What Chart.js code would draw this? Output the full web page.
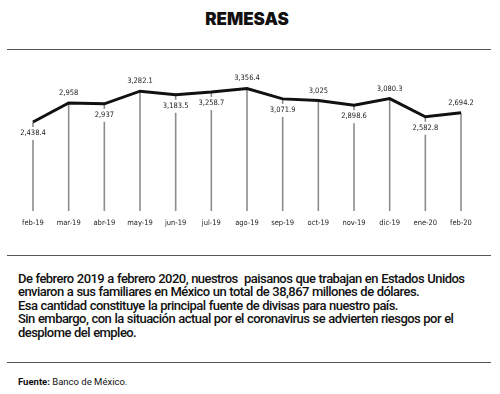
<!DOCTYPE html>
<html>
<head>
<meta charset="utf-8">
<script src="https://cdn.jsdelivr.net/npm/chart.js@4"></script>
<style>
  body { margin: 0; background: #fff; width: 500px; height: 394px; position: relative; overflow: hidden; font-family: Roboto, "Open Sans", sans-serif; color: #111; }
  #title { position: absolute; top: 9px; left: 0; width: 494px; text-align: center; font-family: Inter, Roboto, sans-serif; font-weight: 900; font-size: 17px; letter-spacing: 0px; }
  .rule { position: absolute; left: 7px; width: 484px; height: 1px; background: #555; }
  #chartBox { position: absolute; top: 55px; left: 0; width: 500px; height: 185px; }
  #note { position: absolute; top: 272px; left: 18px; width: 480px; font-size: 13px; font-weight: 500; line-height: 13.4px; letter-spacing: -0.55px; word-spacing: 0.5px; white-space: nowrap; }
  #source { position: absolute; top: 376px; left: 18px; font-size: 9.5px; }
</style>
</head>
<body>
<div id="title">REMESAS</div>
<div class="rule" style="top:49px"></div>
<div id="chartBox"><canvas id="remesasChart"></canvas></div>
<div class="rule" style="top:255px"></div>
<div id="note">De febrero 2019 a febrero 2020, nuestros&nbsp; paisanos que trabajan en Estados Unidos<br>enviaron a sus familiares en México un total de 38,867 millones de dólares.<br>Esa cantidad constituye la principal fuente de divisas para nuestro país.<br>Sin embargo, con la situación actual por el coronavirus se advierten riesgos por el<br>desplome del empleo.</div>
<div class="rule" style="top:362px"></div>
<div id="source"><b>Fuente:</b> Banco de México.</div>

<script>
// months and monthly remittances (millones de dólares)
const months = ["feb-19", "mar-19", "abr-19", "may-19", "jun-19", "jul-19", "ago-19",
  "sep-19", "oct-19", "nov-19", "dic-19", "ene-20", "feb-20"];
const remesas = [2438.4, 2958, 2937, 3282.1, 3183.5, 3258.7, 3356.4,
  3071.9, 3025, 2898.6, 3080.3, 2582.8, 2694.2];
const valueLabels = ["2,438.4", "2,958", "2,937", "3,282.1", "3,183.5", "3,258.7", "3,356.4",
  "3,071.9", "3,025", "2,898.6", "3,080.3", "2,582.8", "2,694.2"];
// which labels sit above the line (true) or below it (false)
const labelAbove = [false, true, false, true, false, false, true,
  false, true, false, true, false, true];

const labelFont = '7.5px "Liberation Sans Narrow", "DejaVu Sans Condensed", sans-serif';

// drop lines from each point to the bottom, plus value labels
const dropLinesPlugin = {
  id: "dropLines",
  beforeDatasetsDraw(chart) {
    const { ctx, chartArea, scales } = chart;
    ctx.save();
    ctx.strokeStyle = "#8c8c8c";
    ctx.lineWidth = 1.6;
    remesas.forEach((v, i) => {
      const x = scales.x.getPixelForValue(i);
      const y = scales.y.getPixelForValue(v);
      ctx.beginPath();
      ctx.moveTo(x, y);
      ctx.lineTo(x, chartArea.bottom);
      ctx.stroke();
    });
    ctx.restore();
  },
  afterDatasetsDraw(chart) {
    const { ctx, scales } = chart;
    ctx.save();
    ctx.font = labelFont;
    ctx.textAlign = "center";
    ctx.textBaseline = "middle";
    remesas.forEach((v, i) => {
      const x = scales.x.getPixelForValue(i);
      const y = scales.y.getPixelForValue(v);
      const ly = labelAbove[i] ? y - 10 : y + 11;
      if (!labelAbove[i]) {
        const w = ctx.measureText(valueLabels[i]).width;
        ctx.fillStyle = "#fff";
        ctx.fillRect(x - w / 2 - 2, ly - 6, w + 4, 13);
      }
      ctx.fillStyle = "#222";
      ctx.fillText(valueLabels[i], x, ly);
    });
    ctx.restore();
  }
};

const ctx = document.getElementById("remesasChart").getContext("2d");
new Chart(ctx, {
  type: "line",
  data: {
    labels: months,
    datasets: [
      {
        data: remesas,
        borderColor: "#111",
        borderWidth: 3,
        pointRadius: 0,
        tension: 0,
        fill: false,
      },
    ],
  },
  options: {
    responsive: true,
    maintainAspectRatio: false,
    animation: false,
    layout: {
      padding: { left: 33, right: 39, top: 10, bottom: 4 },
    },
    plugins: {
      legend: { display: false },
      tooltip: { enabled: false },
    },
    scales: {
      x: {
        offset: false,
        grid: { display: false, drawTicks: false },
        border: { display: false },
        ticks: {
          padding: 8,
          color: "#222",
          maxRotation: 0,
          autoSkip: false,
          font: { family: '"Liberation Sans Narrow", "DejaVu Sans Condensed", sans-serif', size: 7.5 },
        },
      },
      y: {
        display: false,
        min: 0,
        max: 4000,
      },
    },
  },
  plugins: [dropLinesPlugin],
});
</script>
</body>
</html>
